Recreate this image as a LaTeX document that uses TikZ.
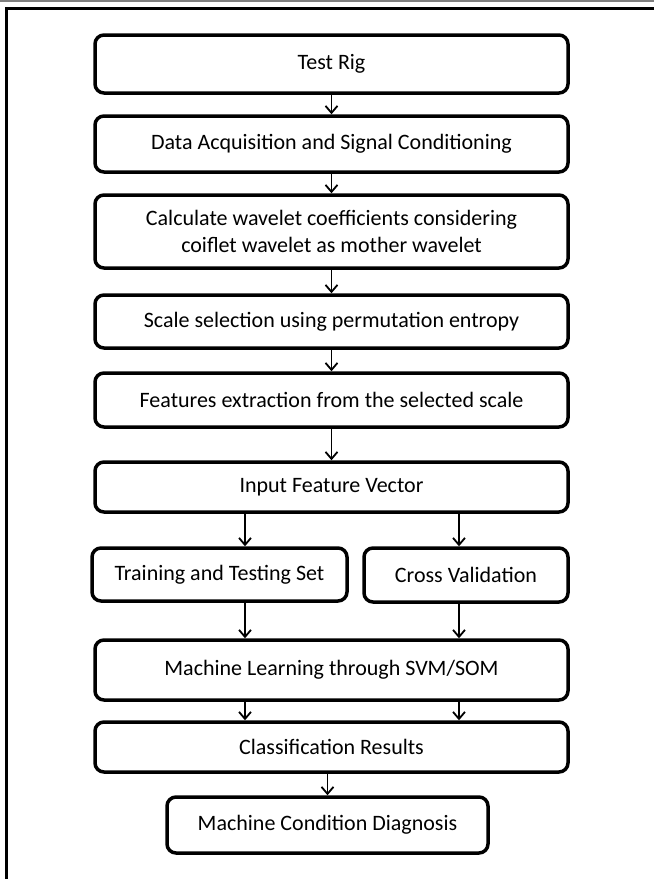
\documentclass[tikz,border=0pt]{standalone}
\usepackage{fontspec}
\setmainfont{Carlito}
\usetikzlibrary{arrows.meta}
\begin{document}
\begin{tikzpicture}[x=1pt,y=-1pt]
      \useasboundingbox (0,0) rectangle (654,879);
      % frame
      \draw[gray,line width=2pt] (0,1) -- (654,1);
      \draw[line width=3pt] (654,8.5) -| (6,879);
      \coordinate (l) at (245,0);
      \coordinate (r) at (459,0);
      \begin{scope}[every node/.style={draw,line width=3.5pt,rounded corners=9pt,inner sep=0pt,align=center,font=\fontsize{22}{27}\selectfont}]
        \node[minimum width=473pt,minimum height=58pt] (rig) at (331.5,64) {Test Rig};
        \node[minimum width=473pt,minimum height=56pt] (daq) at (331.5,144) {Data Acquisition and Signal Conditioning};
        \node[minimum width=473pt,minimum height=73pt] (cwc) at (331.5,231.5) {Calculate wavelet coefficients considering\\coiflet wavelet as mother wavelet};
        \node[minimum width=473pt,minimum height=53pt] (sel) at (331.5,321.5) {Scale selection using permutation entropy};
        \node[minimum width=473pt,minimum height=54pt] (fex) at (331.5,400) {Features extraction from the selected scale};
        \node[minimum width=473pt,minimum height=50pt] (ifv) at (331.5,487) {Input Feature Vector};
        \node[minimum width=255pt,minimum height=53pt] (trn) at (219.5,574.5) {Training and Testing Set};
        \node[minimum width=204pt,minimum height=54pt] (cv) at (466,575) {Cross Validation};
        \node[minimum width=473pt,minimum height=60pt] (mls) at (331.5,670) {Machine Learning through SVM/SOM};
        \node[minimum width=473pt,minimum height=50pt] (cls) at (331.5,747) {Classification Results};
        \node[minimum width=321pt,minimum height=56pt] (mcd) at (327.5,825) {Machine Condition Diagnosis};
      \end{scope}
      \begin{scope}[every edge/.style={draw,line width=1.8pt,-{Straight Barb[length=7pt,width=12pt]}}]
        \path (rig) edge (daq);
        \path (daq) edge (cwc);
        \path (cwc) edge (sel);
        \path (sel) edge (fex);
        \path (fex) edge (ifv);
        \path (ifv.south -| l) edge (trn.north -| l);
        \path (ifv.south -| r) edge (cv.north -| r);
        \path (trn.south -| l) edge (mls.north -| l);
        \path (cv.south -| r) edge (mls.north -| r);
        \path (mls.south -| l) edge (cls.north -| l);
        \path (mls.south -| r) edge (cls.north -| r);
        \path (cls.south -| mcd.north) edge (mcd);
      \end{scope}
    \end{tikzpicture}
\end{document}
